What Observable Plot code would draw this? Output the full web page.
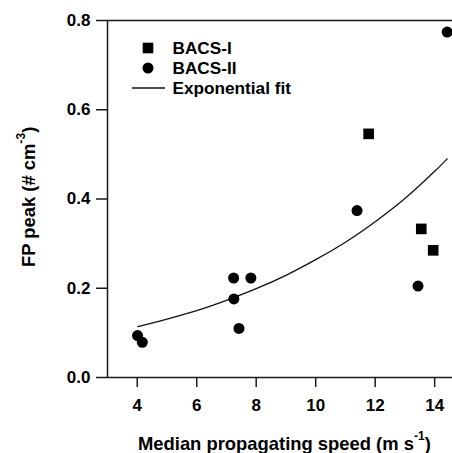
<!DOCTYPE html>
<html><head><meta charset="utf-8">
<script src="https://cdn.jsdelivr.net/npm/d3@7"></script>
<script src="https://cdn.jsdelivr.net/npm/@observablehq/plot@0.6"></script>
<style>html,body{margin:0;padding:0;background:#fff}svg{display:block}</style>
</head><body><div id="chart"></div>
<script>
const bacs1Speed = [11.78, 13.55, 13.95];
const bacs1Peak = [0.546, 0.333, 0.285];
const bacs2Speed = [4.01, 4.17, 7.24, 7.82, 7.25, 7.42, 11.39, 13.44, 14.42];
const bacs2Peak = [0.094, 0.079, 0.223, 0.223, 0.176, 0.110, 0.374, 0.205, 0.774];
const fitSpeed = [4.02, 5, 6, 7, 8, 9, 10, 11, 12, 13, 14, 14.42];
const fitPeak = [0.114, 0.131, 0.150, 0.173, 0.199, 0.229, 0.264, 0.303, 0.349, 0.401, 0.462, 0.490];
const xTicks = [4, 6, 8, 10, 12, 14];
const yTicks = [0, 0.2, 0.4, 0.6, 0.8];
const legendLabels = ["BACS-I", "BACS-II", "Exponential fit"];
const xTitle = ["Median propagating speed (m s", "-1", ")"];
const yTitle = ["FP peak (# cm", "-3", ")"];

const bacs1 = bacs1Speed.map((s, i) => ({speed: s, peak: bacs1Peak[i]}));
const bacs2 = bacs2Speed.map((s, i) => ({speed: s, peak: bacs2Peak[i]}));
const fit = fitSpeed.map((s, i) => ({speed: s, peak: fitPeak[i]}));

const font = "'Liberation Sans', Arial, sans-serif";
const ink = "#1a1a1a";

const chart = Plot.plot({
  width: 452,
  height: 453,
  marginLeft: 107,
  marginRight: 0,
  marginTop: 20,
  marginBottom: 76,
  style: {fontFamily: font, fontSize: "17px", fontWeight: "bold", color: "#000", background: "#fff", overflow: "visible"},
  x: {domain: [3, 14.6]},
  y: {domain: [0, 0.8]},
  marks: [
    Plot.axisY(yTicks, {tickSize: 11, tickPadding: 6, tickFormat: d3.format(".1f"), label: null, stroke: ink, strokeWidth: 1.5, fontSize: 17, fontWeight: "bold"}),
    Plot.axisX(xTicks, {tickSize: 10, tickPadding: 11, label: null, stroke: ink, strokeWidth: 1.5, fontSize: 17, fontWeight: "bold"}),
    Plot.ruleX([3], {stroke: ink, strokeWidth: 1.5}),
    Plot.ruleY([0, 0.8], {stroke: ink, strokeWidth: 1.5}),
    Plot.line(fit, {x: "speed", y: "peak", stroke: "#111", strokeWidth: 1.3, curve: "catmull-rom"}),
    Plot.dot(bacs1, {x: "speed", y: "peak", symbol: "square", fill: "#000", stroke: "none", r: 6}),
    Plot.dot(bacs2, {x: "speed", y: "peak", symbol: "circle", fill: "#000", stroke: "none", r: 5.5})
  ]
});
document.getElementById("chart").appendChild(chart);

const svg = d3.select(chart);
svg.selectAll("g[aria-label$='tick label'] text")
  .attr("font-size", 17).attr("font-weight", "bold").attr("fill", "#000").attr("font-family", font);
svg.selectAll("g[aria-label$='tick label']").attr("font-size", 17);

// axis titles with superscripts
function title(g, parts, size) {
  const t = g.append("text").attr("text-anchor", "start").attr("font-family", font).attr("font-weight", "bold").attr("font-size", size).attr("fill", "#000");
  t.append("tspan").text(parts[0]);
  t.append("tspan").attr("font-size", size * 0.66).attr("dy", -size * 0.55).text(parts[1]);
  t.append("tspan").attr("dy", size * 0.55).text(parts[2]);
  return t;
}
title(svg.append("g").attr("transform", "translate(138,450)"), xTitle, 18.4);
title(svg.append("g").attr("transform", "translate(35,267) rotate(-90)"), yTitle, 18.4);

// legend
const lg = svg.append("g");
lg.append("rect").attr("x", 148 - 5.3).attr("y", 48 - 5.3).attr("width", 10.6).attr("height", 10.6).attr("fill", "#000");
lg.append("circle").attr("cx", 148).attr("cy", 68).attr("r", 5.5).attr("fill", "#000");
lg.append("line").attr("x1", 132).attr("x2", 165).attr("y1", 88).attr("y2", 88).attr("stroke", "#111").attr("stroke-width", 1.3);
legendLabels.forEach((l, i) => {
  lg.append("text").attr("text-anchor", "start").attr("x", 172.5).attr("y", 54 + i * 20).attr("font-family", font).attr("font-weight", "bold").attr("font-size", 17.2).attr("fill", "#000").text(l);
});
</script></body></html>
